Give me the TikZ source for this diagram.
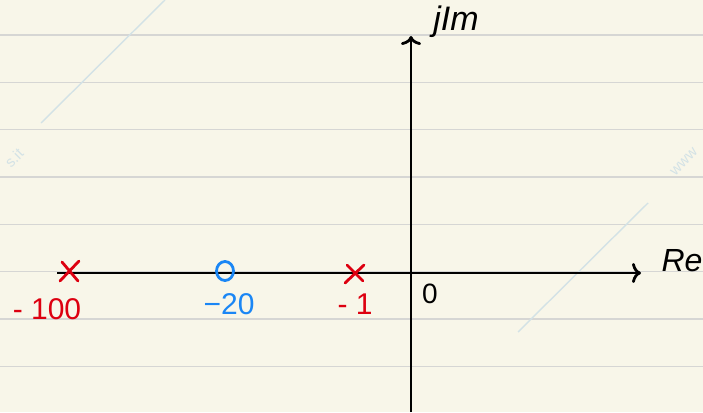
\documentclass[tikz,border=0pt]{standalone}
\usepackage{fontspec}
\setmainfont{Liberation Sans}
\usetikzlibrary{arrows.meta,calc,shapes.geometric}
\definecolor{paper}{HTML}{F8F6E9}
\definecolor{rule}{HTML}{D6D6D4}
\definecolor{wmark}{HTML}{D3E2E6}
\definecolor{pred}{HTML}{DD0010}
\definecolor{pblue}{HTML}{1A86F5}
\tikzset{
  ruleline/.style={rule, line width=1.6pt},
  wm/.style={wmark, line width=1.4pt},
  axis/.style={black, line width=2.8pt, -{To[length=9pt,width=20pt,line width=2.8pt]}},
  polemark/.style={pred, line width=2.8pt, line cap=round},
  zeromark/.style={pblue, line width=2.8pt},
  lbl/.style={inner sep=0pt, font=\fontsize{30}{32}\selectfont},
  wmtext/.style={wmark, rotate=45, font=\fontsize{15}{15}\selectfont, inner sep=0pt},
}
\begin{document}
\begin{tikzpicture}[x=1pt,y=-1pt]
\fill[paper] (0,0) rectangle (703,412);
\useasboundingbox (0,0) rectangle (703,412);
% ruled lines
\foreach \yy in {35,82.3,129.6,177,224.3,271.6,319,366.3}
  \draw[ruleline] (0,\yy) -- (703,\yy);
% watermark
\draw[wm] (41,123) -- (165,0);
\draw[wm] (648,203) -- (518,332);
\node[wmtext] (wm1) at (14,158) {s.it};
\node[wmtext] (wm2) at (684,162) {www};
% axes
\coordinate (xs) at (57,273);
\coordinate (xe) at (641,273);
\coordinate (ys) at (411,412);
\coordinate (ye) at (411,36);
\draw[axis] (xs) -- (xe);
\draw[axis] (ys) -- (ye);
% axis labels
\node[lbl, font=\fontsize{32}{34}\selectfont\itshape] (re) at (682,261) {Re};
\node[lbl, font=\fontsize{34}{36}\selectfont\itshape] (im) at (456,22) {jIm};
\node[lbl, font=\fontsize{28}{30}\selectfont] (orig) at (430,294) {0};
% poles
\coordinate (p1) at (70,271);
\coordinate (p2) at (355,273);
\draw[polemark] ($(p1)+(-8,-9)$) -- ($(p1)+(8,10)$) ($(p1)+(-10,10)$) -- ($(p1)+(9,-10)$);
\draw[polemark] ($(p2)+(-8,-8)$) -- ($(p2)+(8,8)$) ($(p2)+(-10,10)$) -- ($(p2)+(9,-8)$);
\node[lbl, pred] (l1) at (47,309) {- 100};
\node[lbl, pred] (l2) at (355,304) {- 1};
% zero
\node[zeromark, draw, ellipse, minimum width=17pt, minimum height=19pt, inner sep=0pt] (z1) at (225,271) {};
\node[lbl, pblue] (l3) at (229,304) {−20};
\end{tikzpicture}
\end{document}
